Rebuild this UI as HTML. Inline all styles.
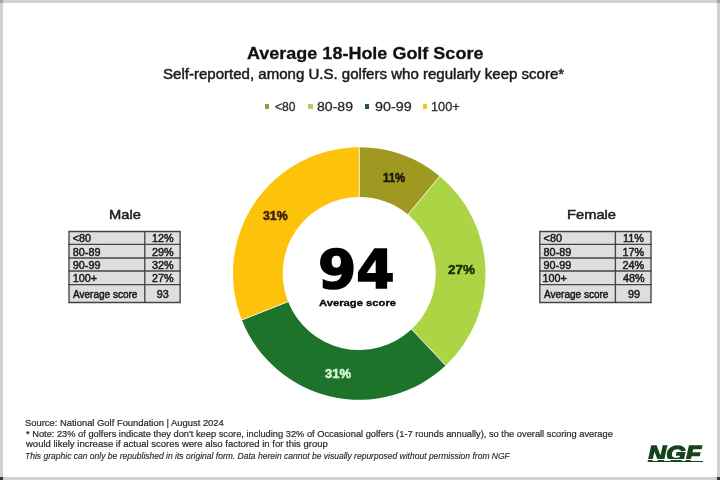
<!DOCTYPE html>
<html><head><meta charset="utf-8"><title>Average 18-Hole Golf Score</title>
<style>
html,body{margin:0;padding:0;}
html{background:#d1d1d1;}
#wrap{position:absolute;left:0;top:0;width:720px;height:480px;filter:blur(0.4px);}
body{width:720px;height:480px;overflow:hidden;background:#d1d1d1;position:relative;font-family:"Liberation Sans",sans-serif;color:#111;}
#card{position:absolute;left:3px;top:3px;width:714px;height:474px;background:#fff;}
.c{position:absolute;width:3px;height:3px;}
.t{position:absolute;white-space:nowrap;line-height:1;transform-origin:0 0;}
.sq{position:absolute;width:4.6px;height:4.6px;top:104.4px;}
.tb{position:absolute;background:#dedede;}
.hl,.vl{position:absolute;background:#3c3c3c;}
</style></head><body>
<div id="wrap"><div id="card"></div>
<div class="c" style="left:0;top:0;background:#a8a8a8"></div>
<div class="c" style="right:0;top:0;background:#a8a8a8"></div>
<div class="c" style="left:0;bottom:0;background:#333"></div>
<div class="c" style="right:0;bottom:0;background:#333"></div>

<div class="sq" style="left:264.8px;background:#93a038"></div>
<div class="sq" style="left:308.1px;background:#b4d060"></div>
<div class="sq" style="left:364.9px;background:#1f5f30"></div>
<div class="sq" style="left:422.7px;background:#f5c518"></div>

<svg width="720" height="480" style="position:absolute;left:0;top:0">
<path d="M359.25 147.25A126.25 126.25 0 0 1 439.72 176.22L408.01 214.56A76.5 76.5 0 0 0 359.25 197.00Z" fill="#9f9922"/>
<path d="M439.72 176.22A126.25 126.25 0 0 1 445.67 365.53L411.62 329.27A76.5 76.5 0 0 0 408.01 214.56Z" fill="#add445"/>
<path d="M445.67 365.53A126.25 126.25 0 0 1 241.87 319.98L288.12 301.66A76.5 76.5 0 0 0 411.62 329.27Z" fill="#1e732b"/>
<path d="M241.87 319.98A126.25 126.25 0 0 1 359.25 147.25L359.25 197.00A76.5 76.5 0 0 0 288.12 301.66Z" fill="#fcc30a"/>
<g stroke="#fff" stroke-width="1" stroke-opacity="0.8">
<line x1="359.25" y1="146.75" x2="359.25" y2="197.50"/>
<line x1="440.04" y1="175.84" x2="407.69" y2="214.94"/>
<line x1="446.02" y1="365.90" x2="411.28" y2="328.90"/>
<line x1="241.40" y1="320.16" x2="288.59" y2="301.48"/>
</g>
</svg>

<div class="tb" style="left:69.0px;top:231.5px;width:111.1px;height:71.0px"></div>
<svg class="tb2" width="720" height="480" style="position:absolute;left:0;top:0"><g stroke="#444" stroke-width="1.35" fill="none">
<line x1="68.35" y1="231.5" x2="180.75" y2="231.5"/>
<line x1="68.35" y1="244.4" x2="180.75" y2="244.4"/>
<line x1="68.35" y1="258.0" x2="180.75" y2="258.0"/>
<line x1="68.35" y1="271.0" x2="180.75" y2="271.0"/>
<line x1="68.35" y1="284.6" x2="180.75" y2="284.6"/>
<line x1="68.35" y1="302.5" x2="180.75" y2="302.5"/>
<line x1="69.0" y1="231.5" x2="69.0" y2="302.5"/>
<line x1="144.8" y1="231.5" x2="144.8" y2="302.5"/>
<line x1="180.1" y1="231.5" x2="180.1" y2="302.5"/>
</g></svg>
<div class="tb" style="left:539.8px;top:231.5px;width:111.2px;height:71.0px"></div>
<svg class="tb2" width="720" height="480" style="position:absolute;left:0;top:0"><g stroke="#444" stroke-width="1.35" fill="none">
<line x1="539.15" y1="231.5" x2="651.65" y2="231.5"/>
<line x1="539.15" y1="244.4" x2="651.65" y2="244.4"/>
<line x1="539.15" y1="258.0" x2="651.65" y2="258.0"/>
<line x1="539.15" y1="271.0" x2="651.65" y2="271.0"/>
<line x1="539.15" y1="284.6" x2="651.65" y2="284.6"/>
<line x1="539.15" y1="302.5" x2="651.65" y2="302.5"/>
<line x1="539.8" y1="231.5" x2="539.8" y2="302.5"/>
<line x1="615.4" y1="231.5" x2="615.4" y2="302.5"/>
<line x1="651.0" y1="231.5" x2="651.0" y2="302.5"/>
</g></svg>
<div class="t" id="title" style="top:46.48px;font-size:16.8px;font-weight:bold;color:#111;-webkit-text-stroke:0.3px #111;left:246.60px;transform:scaleX(1.0725);">Average 18-Hole Golf Score</div>
<div class="t" id="sub" style="top:67.05px;font-size:14.0px;color:#1a1a1a;-webkit-text-stroke:0.45px #1a1a1a;left:163.00px;transform:scaleX(1.0741);">Self-reported, among U.S. golfers who regularly keep score*</div>
<div class="t" id="l1" style="top:99.50px;font-size:13.0px;color:#2a2a2a;-webkit-text-stroke:0.3px #2a2a2a;left:275.00px;transform:scaleX(0.9338);">&lt;80</div>
<div class="t" id="l2" style="top:99.50px;font-size:13.0px;color:#2a2a2a;-webkit-text-stroke:0.3px #2a2a2a;left:317.40px;transform:scaleX(1.0827);">80-89</div>
<div class="t" id="l3" style="top:99.50px;font-size:13.0px;color:#2a2a2a;-webkit-text-stroke:0.3px #2a2a2a;left:374.61px;transform:scaleX(1.1013);">90-99</div>
<div class="t" id="l4" style="top:99.50px;font-size:13.0px;color:#2a2a2a;-webkit-text-stroke:0.3px #2a2a2a;left:430.55px;transform:scaleX(0.9788);">100+</div>
<div class="t" id="p1" style="top:170.70px;font-size:13.0px;font-weight:bold;color:#1a1a0a;-webkit-text-stroke:0.5px #1a1a0a;left:383.22px;transform:scaleX(0.8776);">11%</div>
<div class="t" id="p2" style="top:263.40px;font-size:13.0px;font-weight:bold;color:#1c2e0c;-webkit-text-stroke:0.5px #1c2e0c;left:448.01px;transform:scaleX(1.0300);">27%</div>
<div class="t" id="p3" style="top:366.50px;font-size:13.0px;font-weight:bold;color:#d4f5d2;-webkit-text-stroke:0.5px #d4f5d2;left:325.20px;transform:scaleX(0.9988);">31%</div>
<div class="t" id="p4" style="top:208.90px;font-size:13.0px;font-weight:bold;color:#3a1c10;-webkit-text-stroke:0.5px #3a1c10;left:263.21px;transform:scaleX(0.9456);">31%</div>
<div class="t" id="big" style="top:243.32px;font-size:54.0px;font-weight:bold;color:#000;-webkit-text-stroke:1.6px #000;font-family:DejaVu Sans,sans-serif;left:317.69px;transform:scaleX(1.0192);">94</div>
<div class="t" id="avg" style="top:297.67px;font-size:9.6px;font-weight:bold;color:#000;-webkit-text-stroke:0.3px #000;left:319.00px;transform:scaleX(1.1706);">Average score</div>
<div class="t" id="male" style="top:208.43px;font-size:13.2px;color:#222;-webkit-text-stroke:0.5px #222;left:109.18px;transform:scaleX(1.1147);">Male</div>
<div class="t" id="female" style="top:208.43px;font-size:13.2px;color:#222;-webkit-text-stroke:0.5px #222;left:566.96px;transform:scaleX(1.1153);">Female</div>
<div class="t" id="f1" style="top:419.24px;font-size:8.7px;color:#2a2a2a;-webkit-text-stroke:0.2px #2a2a2a;left:25.19px;transform:scaleX(1.0813);">Source: National Golf Foundation | August 2024</div>
<div class="t" id="f2" style="top:429.64px;font-size:8.7px;color:#2a2a2a;-webkit-text-stroke:0.2px #2a2a2a;left:26.20px;transform:scaleX(1.0683);">* Note: 23% of golfers indicate they don't keep score, including 32% of Occasional golfers (1-7 rounds annually), so the overall scoring average</div>
<div class="t" id="f3" style="top:440.34px;font-size:8.7px;color:#2a2a2a;-webkit-text-stroke:0.2px #2a2a2a;left:26.20px;transform:scaleX(1.0946);">would likely increase if actual scores were also factored in for this group</div>
<div class="t" id="f4" style="top:452.04px;font-size:8.7px;font-style:italic;color:#2a2a2a;-webkit-text-stroke:0.15px #2a2a2a;left:25.20px;transform:scaleX(0.9805);">This graphic can only be republished in its original form. Data herein cannot be visually repurposed without permission from NGF</div>
<div class="t" id="ngf" style="top:442.95px;font-size:22.5px;font-weight:bold;font-style:italic;color:#17431f;-webkit-text-stroke:1.3px #17431f;left:648.02px;transform:scaleX(1.1167);">NGF</div>
<div class="t" id="ma0" style="top:233.46px;font-size:10.8px;color:#1c1c1c;-webkit-text-stroke:0.5px #1c1c1c;left:72.80px;">&lt;80</div>
<div class="t" id="mb0" style="top:233.46px;font-size:10.8px;color:#1c1c1c;-webkit-text-stroke:0.5px #1c1c1c;left:151.89px;">12%</div>
<div class="t" id="ma1" style="top:247.16px;font-size:10.8px;color:#1c1c1c;-webkit-text-stroke:0.5px #1c1c1c;left:72.80px;">80-89</div>
<div class="t" id="mb1" style="top:247.16px;font-size:10.8px;color:#1c1c1c;-webkit-text-stroke:0.5px #1c1c1c;left:151.89px;">29%</div>
<div class="t" id="ma2" style="top:260.16px;font-size:10.8px;color:#1c1c1c;-webkit-text-stroke:0.5px #1c1c1c;left:72.80px;">90-99</div>
<div class="t" id="mb2" style="top:260.16px;font-size:10.8px;color:#1c1c1c;-webkit-text-stroke:0.5px #1c1c1c;left:151.89px;">32%</div>
<div class="t" id="ma3" style="top:273.46px;font-size:10.8px;color:#1c1c1c;-webkit-text-stroke:0.5px #1c1c1c;left:72.80px;">100+</div>
<div class="t" id="mb3" style="top:273.46px;font-size:10.8px;color:#1c1c1c;-webkit-text-stroke:0.5px #1c1c1c;left:151.89px;">27%</div>
<div class="t" id="ma4" style="top:288.96px;font-size:10.8px;color:#1c1c1c;-webkit-text-stroke:0.5px #1c1c1c;left:72.80px;transform:scaleX(0.9277);">Average score</div>
<div class="t" id="mb4" style="top:288.96px;font-size:10.8px;color:#1c1c1c;-webkit-text-stroke:0.5px #1c1c1c;left:156.69px;">93</div>
<div class="t" id="fa0" style="top:233.46px;font-size:10.8px;color:#1c1c1c;-webkit-text-stroke:0.5px #1c1c1c;left:543.60px;">&lt;80</div>
<div class="t" id="fb0" style="top:233.46px;font-size:10.8px;color:#1c1c1c;-webkit-text-stroke:0.5px #1c1c1c;left:622.99px;">11%</div>
<div class="t" id="fa1" style="top:247.16px;font-size:10.8px;color:#1c1c1c;-webkit-text-stroke:0.5px #1c1c1c;left:543.60px;">80-89</div>
<div class="t" id="fb1" style="top:247.16px;font-size:10.8px;color:#1c1c1c;-webkit-text-stroke:0.5px #1c1c1c;left:622.59px;">17%</div>
<div class="t" id="fa2" style="top:260.16px;font-size:10.8px;color:#1c1c1c;-webkit-text-stroke:0.5px #1c1c1c;left:543.60px;">90-99</div>
<div class="t" id="fb2" style="top:260.16px;font-size:10.8px;color:#1c1c1c;-webkit-text-stroke:0.5px #1c1c1c;left:622.59px;">24%</div>
<div class="t" id="fa3" style="top:273.46px;font-size:10.8px;color:#1c1c1c;-webkit-text-stroke:0.5px #1c1c1c;left:542.60px;">100+</div>
<div class="t" id="fb3" style="top:273.46px;font-size:10.8px;color:#1c1c1c;-webkit-text-stroke:0.5px #1c1c1c;left:623.09px;">48%</div>
<div class="t" id="fa4" style="top:288.96px;font-size:10.8px;color:#1c1c1c;-webkit-text-stroke:0.5px #1c1c1c;left:543.60px;transform:scaleX(0.9277);">Average score</div>
<div class="t" id="fb4" style="top:288.96px;font-size:10.8px;color:#1c1c1c;-webkit-text-stroke:0.5px #1c1c1c;left:627.89px;">99</div>
<div class="ngfx" style="position:absolute;left:644px;top:458.9px;width:62px;height:1.6px;background:#fff"></div>
<div class="ngfx" style="position:absolute;left:648.5px;top:460.6px;width:54.5px;height:1.6px;background:#17431f"></div>
</div>
</body></html>
